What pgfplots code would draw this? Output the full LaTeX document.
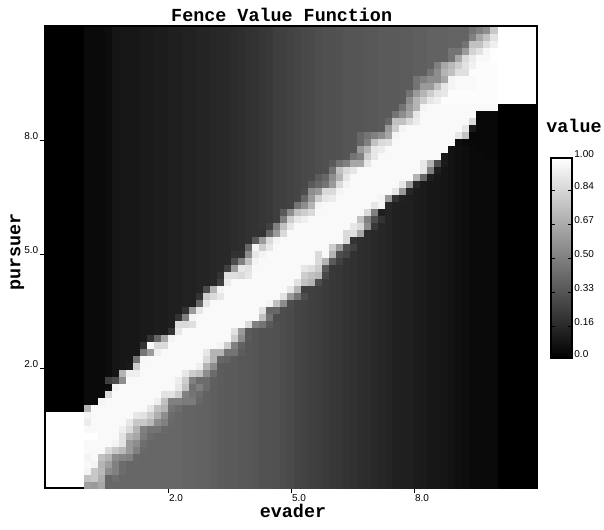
\documentclass[border=0pt]{standalone}
\usepackage{fontspec}
\setmainfont{Liberation Sans}
\newfontfamily\cour{Liberation Mono}
\usepackage{pgfplots}
\usepackage{pgfplotstable}
\pgfplotsset{compat=1.18}
% cell values in percent, one line per row from the top, columns between the two end blocks
\pgfplotstableread[header=false]{
4 4 4 5 8 9 9 9 10 10  11 11 12 12 13 13 14 14 15 16  16 17 18 19 20 21 22 24 25 26  27 28 29 30 31 31 32 33 33 33  34 34 35 35 35 36 36 37 37 38  38 38 39 39 39 45 50 55 78
4 4 4 5 8 9 9 9 10 10  11 11 12 12 13 13 14 14 15 16  16 17 18 19 20 21 22 24 25 26  27 28 29 30 31 31 32 33 33 33  34 34 35 35 35 36 36 37 37 38  38 38 39 39 39 50 65 75 88
4 4 4 5 8 9 9 9 10 10  11 11 12 12 13 13 14 14 15 16  16 17 18 19 20 21 22 24 25 26  27 28 29 30 31 31 32 33 33 33  34 34 35 35 35 36 36 37 37 38  38 38 39 39 45 75 75 87 93
4 4 4 5 8 9 9 9 10 10  11 11 12 12 13 13 14 14 15 16  16 17 18 19 20 21 22 24 25 26  27 28 29 30 31 31 32 33 33 33  34 34 35 35 35 36 36 37 37 38  38 38 45 45 60 82 88 96 99
4 4 4 5 8 9 9 9 10 10  11 11 12 12 13 13 14 14 15 16  16 17 18 19 20 21 22 24 25 26  27 28 29 30 31 31 32 33 33 33  34 34 35 35 35 36 36 37 37 38  38 38 45 65 85 92 97 97 99
4 4 4 5 8 9 9 9 10 10  11 11 12 12 13 13 14 14 15 16  16 17 18 19 20 21 22 24 25 26  27 28 29 30 31 31 32 33 33 33  34 34 35 35 35 36 36 37 37 38  50 65 72 80 88 94 98 98 98
4 4 4 5 8 9 9 9 10 10  11 11 12 12 13 13 14 14 15 16  16 17 18 19 20 21 22 24 25 26  27 28 29 30 31 31 32 33 33 33  34 34 35 35 35 36 36 37 37 45  55 70 75 87 87 98 98 98 98
4 4 4 5 8 9 9 9 10 10  11 11 12 12 13 13 14 14 15 16  16 17 18 19 20 21 22 24 25 26  27 28 29 30 31 31 32 33 33 33  34 34 35 35 35 36 36 45 50 55  55 65 95 97 97 97 98 98 98
4 4 4 5 8 9 9 9 10 10  11 11 12 12 13 13 14 14 15 16  16 17 18 19 20 21 22 24 25 26  27 28 29 30 31 31 32 33 33 33  34 34 35 35 35 36 36 45 60 60  75 90 95 97 97 97 98 98 98
4 4 4 5 8 9 9 9 10 10  11 11 12 12 13 13 14 14 15 16  16 17 18 19 20 21 22 24 25 26  27 28 29 30 31 31 32 33 33 33  34 34 35 35 35 36 45 60 70 80  88 90 98 98 98 98 98 98 98
4 4 4 5 8 9 9 9 10 10  11 11 12 12 13 13 14 14 15 16  16 17 18 19 20 21 22 24 25 26  27 28 29 30 31 31 32 33 33 33  34 34 35 35 35 36 55 70 80 90  93 98 98 98 98 98 98 98 98
4 4 4 5 8 9 9 9 10 10  11 11 12 12 13 13 14 14 15 16  16 17 18 19 20 21 22 24 25 26  27 28 29 30 31 31 32 33 33 33  34 34 35 35 35 45 60 70 95 97  97 97 97 97 97 97 97 97 97
4 4 4 5 8 9 9 9 10 10  11 11 12 12 13 13 14 14 15 16  16 17 18 19 20 21 22 24 25 26  27 28 29 30 31 31 32 33 33 33  34 34 35 35 45 55 65 90 97 97  97 97 97 97 97 97 3 3 3
4 4 4 5 8 9 9 9 10 10  11 11 12 12 13 13 14 14 15 16  16 17 18 19 20 21 22 24 25 26  27 28 29 30 31 31 32 33 33 33  34 34 35 40 75 75 85 92 97 97  97 97 97 97 97 85 3 3 3
4 4 4 5 8 9 9 9 10 10  11 11 12 12 13 13 14 14 15 16  16 17 18 19 20 21 22 24 25 26  27 28 29 30 31 31 32 33 33 33  34 34 35 60 80 95 97 97 97 97  97 97 97 97 90 10 3 3 3
4 4 4 5 8 9 9 9 10 10  11 11 12 12 13 13 14 14 15 16  16 17 18 19 20 21 22 24 25 26  27 28 29 30 31 31 32 33 33 40  45 50 55 65 95 97 97 97 97 97  97 97 97 90 75 3 3 3 3
4 4 4 5 8 9 9 9 10 10  11 11 12 12 13 13 14 14 15 16  16 17 18 19 20 21 22 24 25 26  27 28 29 30 31 31 32 33 33 40  50 75 85 87 97 97 97 97 97 97  97 97 97 5 4 3 3 3 3
4 4 4 5 8 9 9 9 10 10  11 11 12 12 13 13 14 14 15 16  16 17 18 19 20 21 22 24 25 26  27 28 29 30 31 31 32 33 33 60  70 90 92 97 97 97 97 97 97 97  97 97 7 6 5 4 3 3 3
4 4 4 5 8 9 9 9 10 10  11 11 12 12 13 13 14 14 15 16  16 17 18 19 20 21 22 24 25 26  27 28 29 30 31 31 32 33 45 50  80 90 97 97 97 97 97 97 97 97  97 10 7 6 5 4 4 3 3
4 4 4 5 8 9 9 9 10 10  11 11 12 12 13 13 14 14 15 16  16 17 18 19 20 21 22 24 25 26  27 28 29 30 31 35 45 50 65 65  90 97 97 97 97 97 97 97 90 70  30 10 7 6 5 4 4 4 4
4 4 4 5 8 9 9 9 10 10  11 11 12 12 13 13 14 14 15 16  16 17 18 19 20 21 22 24 25 26  27 28 29 30 31 45 75 85 90 97  97 97 97 97 97 97 97 97 90 50  12 8 7 6 5 4 4 4 4
4 4 4 5 8 9 9 9 10 10  11 11 12 12 13 13 14 14 15 16  16 17 18 19 20 21 22 24 25 26  27 28 29 36 40 55 70 90 97 97  97 97 97 97 97 97 97 70 40 12  9 8 7 6 5 4 4 4 4
4 4 4 5 8 9 9 9 10 10  11 11 12 12 13 13 14 14 15 16  16 17 18 19 20 21 22 24 25 26  27 28 35 40 45 60 85 95 97 97  97 97 97 97 97 90 60 15 10 9  9 8 7 6 5 4 4 4 4
4 4 4 5 8 9 9 9 10 10  11 11 12 12 13 13 14 14 15 16  16 17 18 19 20 21 22 24 25 26  27 30 55 60 85 85 95 97 97 97  97 97 97 97 90 60 15 11 10 9  9 8 7 6 5 4 4 4 4
4 4 4 5 8 9 9 9 10 10  11 11 12 12 13 13 14 14 15 16  16 17 18 19 20 21 22 24 25 26  27 40 60 80 90 92 97 97 97 97  97 97 95 60 20 13 12 11 10 9  9 8 7 6 5 4 4 4 4
4 4 4 5 8 9 9 9 10 10  11 11 12 12 13 13 14 14 15 16  16 17 18 19 20 21 22 24 25 26  45 55 70 95 97 97 97 97 97 97  97 90 95 15 13 12 12 11 10 9  9 8 7 6 5 4 4 4 4
4 4 4 5 8 9 9 9 10 10  11 11 12 12 13 13 14 14 15 16  16 17 18 19 20 21 22 24 35 55  75 80 85 97 97 97 97 97 97 97  85 50 12 14 13 12 12 11 10 9  9 8 7 6 5 4 4 4 4
4 4 4 5 8 9 9 9 10 10  11 11 12 12 13 13 14 14 15 16  16 17 18 19 20 21 22 24 50 80  90 93 97 97 97 97 97 97 97 75  50 30 20 14 13 12 12 11 10 9  9 8 7 6 5 4 4 4 4
4 4 4 5 8 9 9 9 10 10  11 11 12 12 13 13 14 14 15 16  16 17 18 19 20 21 25 50 75 90  97 97 97 97 97 97 97 97 90 85  55 22 15 14 13 12 12 11 10 9  9 8 7 6 5 4 4 4 4
4 4 4 5 8 9 9 9 10 10  11 11 12 12 13 13 14 14 15 16  16 17 18 19 20 20 40 60 85 97  97 97 97 97 97 97 97 85 87 65  17 16 15 14 13 12 12 11 10 9  9 8 7 6 5 4 4 4 4
4 4 4 5 8 9 9 9 10 10  11 11 12 12 13 13 14 14 15 16  16 17 18 19 35 60 85 95 97 97  97 97 97 97 97 97 97 85 20 18  17 16 15 14 13 12 12 11 10 9  9 8 7 6 5 4 4 4 4
4 4 4 5 8 9 9 9 10 10  11 11 12 12 13 13 14 14 15 16  16 17 18 40 95 80 90 97 97 97  97 97 97 97 97 80 60 30 25 18  17 16 15 14 13 12 12 11 10 9  9 8 7 6 5 4 4 4 4
4 4 4 5 8 9 9 9 10 10  11 11 12 12 13 13 14 14 15 16  16 20 20 55 90 95 97 97 97 97  97 97 97 85 97 70 30 27 19 18  17 16 15 14 13 12 12 11 10 9  9 8 7 6 5 4 4 4 4
4 4 4 5 8 9 9 9 10 10  11 11 12 12 13 13 14 14 15 16  16 30 50 75 95 97 97 97 97 97  97 97 97 85 70 35 25 20 19 18  17 16 15 14 13 12 12 11 10 9  9 8 7 6 5 4 4 4 4
4 4 4 5 8 9 9 9 10 10  11 11 12 12 13 13 14 14 15 16  25 60 90 88 97 97 97 97 97 97  97 90 87 80 35 22 21 20 19 18  17 16 15 14 13 12 12 11 10 9  9 8 7 6 5 4 4 4 4
4 4 4 5 8 9 9 9 10 10  11 11 12 12 13 13 14 14 15 20  87 87 85 90 97 97 97 97 97 97  97 80 75 72 28 22 21 20 19 18  17 16 15 14 13 12 12 11 10 9  9 8 7 6 5 4 4 4 4
4 4 4 5 8 9 9 9 10 10  11 11 12 12 13 13 14 14 15 25  92 97 97 97 97 97 97 97 97 97  88 75 70 30 23 22 21 20 19 18  17 16 15 14 13 12 12 11 10 9  9 8 7 6 5 4 4 4 4
4 4 4 5 8 9 9 9 10 10  11 11 12 12 13 13 14 30 70 95  97 97 97 97 97 97 97 97 97 90  70 25 25 24 23 22 21 20 19 18  17 16 15 14 13 12 12 11 10 9  9 8 7 6 5 4 4 4 4
4 4 4 5 8 9 9 9 10 10  11 11 12 12 13 13 20 80 85 90  97 97 97 97 97 97 97 97 88 60  45 30 25 24 23 22 21 20 19 18  17 16 15 14 13 12 12 11 10 9  9 8 7 6 5 4 4 4 4
4 4 4 5 8 9 9 9 10 10  11 11 12 12 13 13 40 90 97 97  97 97 97 97 97 97 95 75 55 30  27 26 25 24 23 22 21 20 19 18  17 16 15 14 13 12 12 11 10 9  9 8 7 6 5 4 4 4 4
4 4 4 5 8 9 9 9 10 10  11 11 12 12 20 60 90 97 97 97  97 97 97 97 97 88 40 40 30 29  27 26 25 24 23 22 21 20 19 18  17 16 15 14 13 12 12 11 10 9  9 8 7 6 5 4 4 4 4
4 4 4 5 8 9 9 9 10 10  11 11 12 20 50 95 97 97 97 97  97 97 97 97 97 75 45 30 30 29  27 26 25 24 23 22 21 20 19 18  17 16 15 14 13 12 12 11 10 9  9 8 7 6 5 4 4 4 4
4 4 4 5 8 9 9 9 10 10  11 11 12 85 85 87 97 97 97 97  97 97 97 85 50 45 35 31 30 29  27 26 25 24 23 22 21 20 19 18  17 16 15 14 13 12 12 11 10 9  9 8 7 6 5 4 4 4 4
4 4 4 5 8 9 9 9 10 10  11 11 20 90 97 97 97 97 97 97  97 88 60 35 33 32 32 31 30 29  27 26 25 24 23 22 21 20 19 18  17 16 15 14 13 12 12 11 10 9  9 8 7 6 5 4 4 4 4
4 4 4 5 8 9 9 9 10 20  40 65 95 97 97 97 97 97 97 97  97 80 55 35 33 32 32 31 30 29  27 26 25 24 23 22 21 20 19 18  17 16 15 14 13 12 12 11 10 9  9 8 7 6 5 4 4 4 4
4 4 4 5 8 9 9 9 20 97  85 85 97 97 97 97 97 97 97 95  80 50 38 34 33 32 32 31 30 29  27 26 25 24 23 22 21 20 19 18  17 16 15 14 13 12 12 11 10 9  9 8 7 6 5 4 4 4 4
4 4 4 5 8 9 9 9 45 60  93 97 97 97 97 97 97 90 70 70  45 45 36 34 33 32 32 31 30 29  27 26 25 24 23 22 21 20 19 18  17 16 15 14 13 12 12 11 10 9  9 8 7 6 5 4 4 4 4
4 4 4 5 8 9 9 45 96 97  97 97 97 97 97 97 97 85 70 40  38 35 34 34 33 32 32 31 30 29  27 26 25 24 23 22 21 20 19 18  17 16 15 14 13 12 12 11 10 9  9 8 7 6 5 4 4 4 4
4 4 4 5 8 9 10 80 97 97  97 97 97 97 97 97 93 70 55 36  35 35 34 34 33 32 32 31 30 29  27 26 25 24 23 22 21 20 19 18  17 16 15 14 13 12 12 11 10 9  9 8 7 6 5 4 4 4 4
4 4 4 5 8 70 93 93 97 97  97 97 97 97 90 80 75 55 42 36  35 35 34 34 33 32 32 31 30 29  27 26 25 24 23 22 21 20 19 18  17 16 15 14 13 12 12 11 10 9  9 8 7 6 5 4 4 4 4
4 4 4 25 30 55 97 97 97 97  97 97 97 92 80 50 42 42 37 36  35 35 34 34 33 32 32 31 30 29  27 26 25 24 23 22 21 20 19 18  17 16 15 14 13 12 12 11 10 9  9 8 7 6 5 4 4 4 4
4 4 4 5 95 97 97 97 97 97  97 97 97 90 75 44 50 42 37 36  35 35 34 34 33 32 32 31 30 29  27 26 25 24 23 22 21 20 19 18  17 16 15 14 13 12 12 11 10 9  9 8 7 6 5 4 4 4 4
4 4 4 85 97 97 97 97 97 97  97 88 88 80 50 45 42 38 37 36  35 35 34 34 33 32 32 31 30 29  27 26 25 24 23 22 21 20 19 18  17 16 15 14 13 12 12 11 10 9  9 8 7 6 5 4 4 4 4
4 4 95 97 97 97 97 97 97 97  93 75 50 50 48 48 40 38 37 36  35 35 34 34 33 32 32 31 30 29  27 26 25 24 23 22 21 20 19 18  17 16 15 14 13 12 12 11 10 9  9 8 7 6 5 4 4 4 4
70 97 97 97 97 97 97 97 97 90  75 70 45 42 39 39 38 38 37 36  35 35 34 34 33 32 32 31 30 29  27 26 25 24 23 22 21 20 19 18  17 16 15 14 13 12 12 11 10 9  9 8 7 6 5 4 4 4 4
95 97 97 97 97 97 97 90 88 80  68 55 42 40 39 39 38 38 37 36  35 35 34 34 33 32 32 31 30 29  27 26 25 24 23 22 21 20 19 18  17 16 15 14 13 12 12 11 10 9  9 8 7 6 5 4 4 4 4
92 97 97 97 97 97 90 78 78 72  55 50 41 40 39 39 38 38 37 36  35 35 34 34 33 32 32 31 30 29  27 26 25 24 23 22 21 20 19 18  17 16 15 14 13 12 12 11 10 9  9 8 7 6 5 4 4 4 4
97 97 97 97 97 93 85 70 50 45  45 41 40 40 39 39 38 38 37 36  35 35 34 34 33 32 32 31 30 29  27 26 25 24 23 22 21 20 19 18  17 16 15 14 13 12 12 11 10 9  9 8 7 6 5 4 4 4 4
100 100 97 97 97 88 70 65 48 42  40 40 40 40 39 39 38 38 37 36  35 35 34 34 33 32 32 31 30 29  27 26 25 24 23 22 21 20 19 18  17 16 15 14 13 12 12 11 10 9  9 8 7 6 5 4 4 4 4
97 97 97 97 95 88 60 55 43 40  40 40 40 40 39 39 38 38 37 36  35 35 34 34 33 32 32 31 30 29  27 26 25 24 23 22 21 20 19 18  17 16 15 14 13 12 12 11 10 9  9 8 7 6 5 4 4 4 4
97 97 97 85 78 72 60 50 41 40  40 40 40 40 39 39 38 38 37 36  35 35 34 34 33 32 32 31 30 29  27 26 25 24 23 22 21 20 19 18  17 16 15 14 13 12 12 11 10 9  9 8 7 6 5 4 4 4 4
95 97 75 70 55 52 50 41 40 40  40 40 40 40 39 39 38 38 37 36  35 35 34 34 33 32 32 31 30 29  27 26 25 24 23 22 21 20 19 18  17 16 15 14 13 12 12 11 10 9  9 8 7 6 5 4 4 4 4
97 95 70 62 50 42 40 40 40 40  40 40 40 40 39 39 38 38 37 36  35 35 34 34 33 32 32 31 30 29  27 26 25 24 23 22 21 20 19 18  17 16 15 14 13 12 12 11 10 9  9 8 7 6 5 4 4 4 4
95 78 72 55 50 42 40 40 40 40  40 40 40 40 39 39 38 38 37 36  35 35 34 34 33 32 32 31 30 29  27 26 25 24 23 22 21 20 19 18  17 16 15 14 13 12 12 11 10 9  9 8 7 6 5 4 4 4 4
75 78 68 40 43 40 40 40 40 40  40 40 40 40 39 39 38 38 37 36  35 35 34 34 33 32 32 31 30 29  27 26 25 24 23 22 21 20 19 18  17 16 15 14 13 12 12 11 10 9  9 8 7 6 5 4 4 4 4
62 60 65 40 40 40 40 40 40 40  40 40 40 40 39 39 38 38 37 36  35 35 34 34 33 32 32 31 30 29  27 26 25 24 23 22 21 20 19 18  17 16 15 14 13 12 12 11 10 9  9 8 7 6 5 4 4 4 4
}\cellsdata
\begin{document}
\begin{tikzpicture}
\useasboundingbox (0pt,0pt) rectangle (453pt,397.5pt);
\begin{axis}[
  at={(33.75pt,31.5pt)}, anchor=south west,
  scale only axis, width=369pt, height=346.5pt,
  xmin=-1, xmax=11, ymin=-1.158, ymax=11,
  xtick={2,5,8}, xticklabels={2.0,5.0,8.0},
  ytick={2,5,8}, yticklabels={2.0,5.0,8.0},
  xtick pos=lower, ytick pos=left, tick align=outside,
  major tick length=4pt, tick style={black, line width=0.6pt},
  axis line style={line width=1.5pt}, axis on top,
  /pgf/number format/assume math mode=true,
  tick label style={font=\fontsize{7.5}{9}\selectfont},
  xticklabel style={xshift=6pt, yshift=2.5pt},
  yticklabel style={yshift=3pt, xshift=2.5pt},
  title={\cour\bfseries Fence Value Function},
  title style={font=\fontsize{13.8}{15}\selectfont, yshift=-6.5pt, xshift=-7pt},
  xlabel={\cour\bfseries evader},
  xlabel style={font=\fontsize{13.8}{15}\selectfont, yshift=5pt, xshift=1.5pt},
  ylabel={\cour\bfseries pursuer},
  ylabel style={font=\fontsize{13.8}{15}\selectfont, yshift=-6.75pt, xshift=4pt},
  colormap/blackwhite,
  point meta min=0, point meta max=100,
  colorbar right,
  colorbar style={
    at={(parent axis.south east)}, anchor=south west,
    xshift=2.25pt, yshift=97.5pt,
    width=15.75pt, height=150pt,
    ytick={0,16,33,50,67,84,100},
    yticklabels={0.0,0.16,0.33,0.50,0.67,0.84,1.00},
    major tick length=3pt,
    tick style={black, line width=0.6pt},
    axis line style={line width=1.5pt},
    yticklabel style={font=\fontsize{7.5}{9}\selectfont, xshift=-2pt, yshift=3pt},
  },
]
% end blocks
\addplot[fill=black, draw=none, forget plot] coordinates {(-1,0.842) (-0.0488,0.842) (-0.0488,11) (-1,11)} -- cycle;
\addplot[fill=white, draw=none, forget plot] coordinates {(-1,-1.158) (-0.0488,-1.158) (-0.0488,0.842) (-1,0.842)} -- cycle;
\addplot[fill=white, draw=none, forget plot] coordinates {(10.024,8.947) (11,8.947) (11,11) (10.024,11)} -- cycle;
\addplot[fill=black, draw=none, forget plot] coordinates {(10.024,-1.158) (11,-1.158) (11,8.947) (10.024,8.947)} -- cycle;
% one plot per column of cells
\pgfplotsinvokeforeach{0,...,58}{
  \addplot[scatter, only marks, mark=square*, mark size=2.45pt, point meta=explicit,
           scatter/use mapped color={draw=mapped color, fill=mapped color}, forget plot]
    table[meta index=#1, x expr={(42.5+7*#1)/41-1}, y expr={2+(337.5-7*\coordindex)/38}] {\cellsdata};
}
\end{axis}
\node[font=\cour\bfseries\fontsize{13.8}{15}\selectfont, anchor=base] at (430.5pt,297.75pt) {value};
\end{tikzpicture}
\end{document}
